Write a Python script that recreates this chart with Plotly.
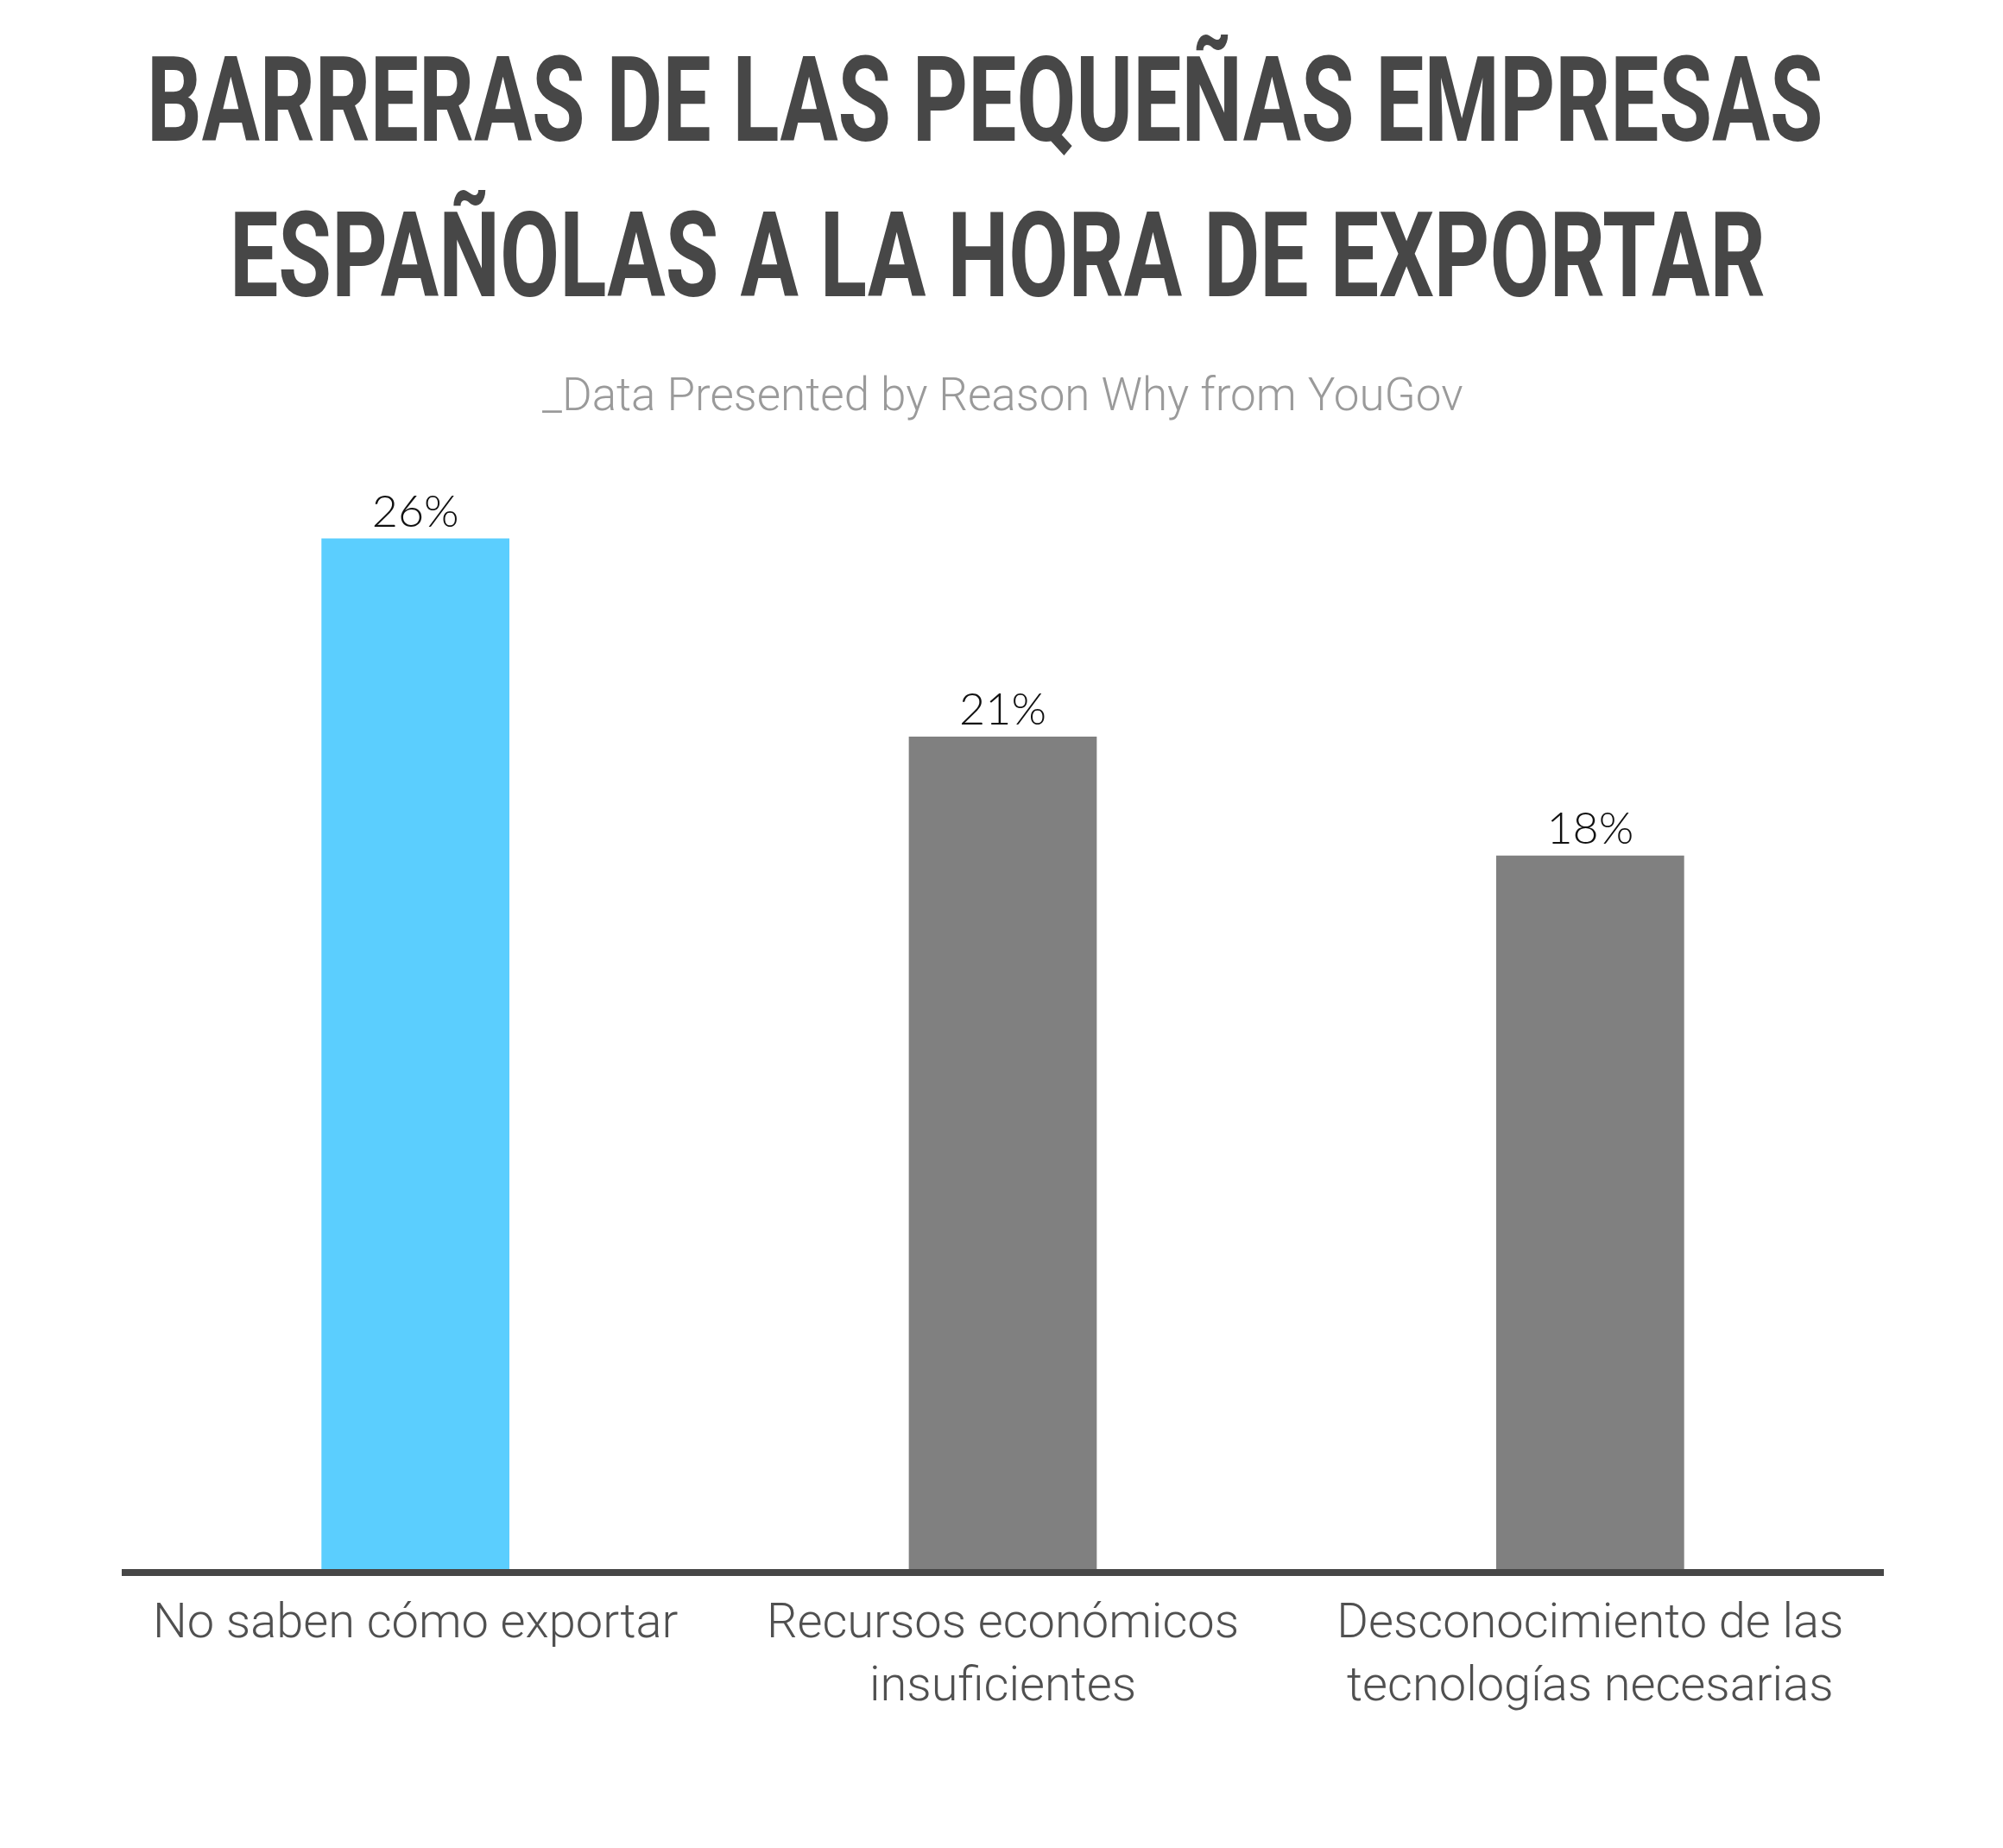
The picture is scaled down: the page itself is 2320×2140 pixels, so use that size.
"""
Barreras de las pequeñas empresas españolas a la hora de exportar.
Bar chart recreated with Plotly.
"""

import plotly.graph_objects as go

# data
categories = [
    "No saben cómo exportar",
    "Recursos económicos<br>insuficientes",
    "Desconocimiento de las<br>tecnologías necesarias",
]
values = [26, 21, 18]
bar_colors = ["#5BCEFE", "#808080", "#808080"]

title_lines = [
    "BARRERAS DE LAS PEQUEÑAS EMPRESAS",
    "ESPAÑOLAS A LA HORA DE EXPORTAR",
]
subtitle = "_Data Presented by Reason Why from YouGov"

W, H = 2320, 2140
M_TOP, M_BOT, M_L, M_R = 440, 323, 141, 138
PLOT_W = W - M_L - M_R
PLOT_H = H - M_TOP - M_BOT

TITLE_SIZE = 100
# target box of each title line on the page: centre x, cap centre y, width
title_boxes = [(1141, 115, 1942), (1155, 296, 1779)]
TITLE_CAP = 98


def paper_x(px):
    return (px - M_L) / PLOT_W


def paper_y(px):
    # convert a pixel row of the page into paper coordinates
    return (H - M_BOT - px) / PLOT_H


fig = go.Figure(go.Bar(
    x=categories,
    y=values,
    marker=dict(color=bar_colors, line=dict(width=0)),
    width=0.32,
    text=[f"{v}%" for v in values],
    textposition="outside",
    textfont=dict(family="Lato, Roboto, sans-serif", size=52, color="#111111", weight=300),
    cliponaxis=False,
))

title_font = dict(family="Roboto, sans-serif", size=TITLE_SIZE, color="#474747", weight="bold")
for txt, (cx, cy, _) in zip(title_lines, title_boxes):
    fig.add_annotation(
        text=txt, xref="paper", yref="paper", x=paper_x(cx), y=paper_y(cy),
        xanchor="center", yanchor="middle", showarrow=False, font=title_font,
    )

fig.add_annotation(
    text=subtitle, xref="paper", yref="paper", x=0.5, y=paper_y(457),
    xanchor="center", yanchor="middle", showarrow=False,
    font=dict(family="Roboto, sans-serif", size=53, color="#9A9A9A", weight=300),
)

fig.update_xaxes(
    showline=True, linewidth=8, linecolor="#474747",
    showgrid=False, ticks="", range=[-0.5, 2.5], automargin=False,
    ticklabelstandoff=4,
    tickfont=dict(family="Roboto, sans-serif", size=56, color="#505050", weight=300),
)
fig.update_yaxes(visible=False, range=[0, 30], showgrid=False, zeroline=False,
                 automargin=False)

fig.update_layout(
    width=W, height=H,
    margin=dict(t=M_TOP, b=M_BOT, l=M_L, r=M_R, autoexpand=False),
    plot_bgcolor="white", paper_bgcolor="white",
    showlegend=False,
)

# the original title uses a tall condensed face; stretch the title text to its box
targets = ", ".join(
    f'"{t}": [{w}, {TITLE_CAP / (0.711 * TITLE_SIZE):.4f}]'
    for t, (_, _, w) in zip(title_lines, title_boxes)
)
post_script = """
document.body.style.margin = '0';
var gd = document.getElementById('{plot_id}');
var targets = {%s};
function stretchTitle() {
  gd.querySelectorAll('text.annotation-text').forEach(function (t) {
    var key = t.getAttribute('data-unformatted');
    if (!(key in targets) || t.getAttribute('data-stretched')) return;
    var b = t.getBBox();
    var sx = targets[key][0] / b.width, sy = targets[key][1];
    var cx = b.x + b.width / 2, cy = b.y + b.height / 2;
    var old = t.getAttribute('transform');
    t.setAttribute('transform', (old ? old + ' ' : '') +
      'translate(' + cx + ',' + cy + ') scale(' + sx + ',' + sy + ') translate(' + (-cx) + ',' + (-cy) + ')');
    t.setAttribute('data-stretched', '1');
  });
}
stretchTitle();
gd.on('plotly_afterplot', stretchTitle);
""" % targets

fig.write_html("out.html", post_script=post_script,
               config={"displayModeBar": False})
